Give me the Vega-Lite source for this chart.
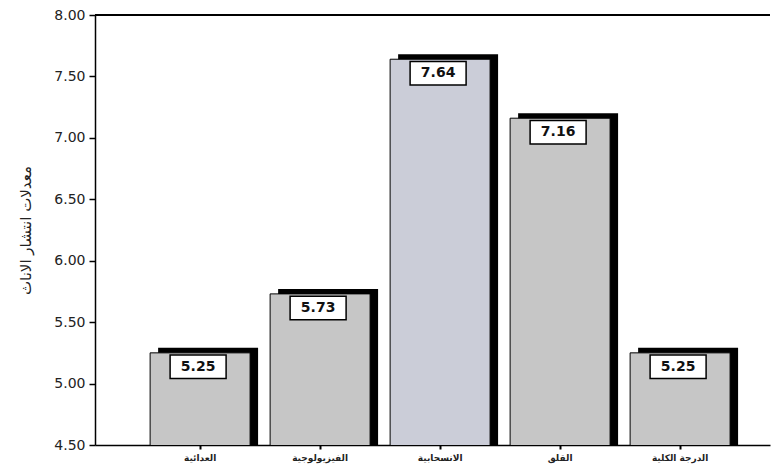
{
  "$schema": "https://vega.github.io/schema/vega-lite/v6.json",
  "width": 675,
  "height": 430,
  "autosize": {"type": "none"},
  "padding": {"left": 95, "top": 15, "right": 10, "bottom": 21},
  "background": "white",
  "config": {"view": {"stroke": null}, "font": "DejaVu Sans"},
  "data": {"values": [
    {"cat": "العدائية", "v": 5.25, "c": "a"},
    {"cat": "الفيزيولوجية", "v": 5.73, "c": "a"},
    {"cat": "الانسحابية", "v": 7.64, "c": "b"},
    {"cat": "القلق", "v": 7.16, "c": "a"},
    {"cat": "الدرجة الكلية", "v": 5.25, "c": "a"}
  ]},
  "encoding": {
    "x": {"field": "cat", "type": "nominal", "sort": null,
      "scale": {"paddingInner": 0.167, "paddingOuter": 0.396, "align": 0.58},
      "axis": {"title": null, "labelAngle": 0, "labelFontSize": 9, "labelFontWeight": "bold", "labelColor": "#222", "domainColor": "black", "domainWidth": 1.5, "tickColor": "black", "tickSize": 4, "tickWidth": 2, "labelPadding": 4}},
    "y": {"field": "v", "type": "quantitative",
      "scale": {"domain": [4.5, 8.0], "zero": false, "nice": false},
      "axis": {"title": "معدلات انتشار الاناث", "titleFontSize": 15, "titleFontWeight": "normal", "titleColor": "#222", "titlePadding": 20, "values": [4.5, 5, 5.5, 6, 6.5, 7, 7.5, 8], "format": ".2f", "labelFontSize": 14, "labelColor": "#222", "domainColor": "black", "domainWidth": 1.5, "tickColor": "black", "tickSize": 6, "tickWidth": 1.5, "grid": false, "labelPadding": 4}}
  },
  "layer": [
    {"mark": {"type": "bar", "color": "black", "xOffset": 8, "yOffset": -5, "clip": true}},
    {"mark": {"type": "bar", "stroke": "black", "strokeWidth": 1, "clip": true},
     "encoding": {"color": {"field": "c", "type": "nominal", "legend": null, "scale": {"domain": ["a", "b"], "range": ["#c6c6c6", "#cbcdd8"]}}}},
    {"mark": {"type": "point", "shape": "M-1,-0.42L1,-0.42L1,0.42L-1,0.42Z", "size": 3136, "filled": true, "fill": "white", "stroke": "black", "strokeWidth": 1.5, "opacity": 1, "yOffset": 14, "xOffset": -2}},
    {"mark": {"type": "text", "yOffset": 14, "xOffset": -2, "fontSize": 14, "fontWeight": "bold", "color": "#111", "baseline": "middle"},
     "encoding": {"text": {"field": "v", "type": "quantitative", "format": ".2f"}}},
    {"mark": {"type": "rule", "color": "black", "strokeWidth": 1.5}, "encoding": {"y": {"datum": 8}, "x": null}}
  ]
}
